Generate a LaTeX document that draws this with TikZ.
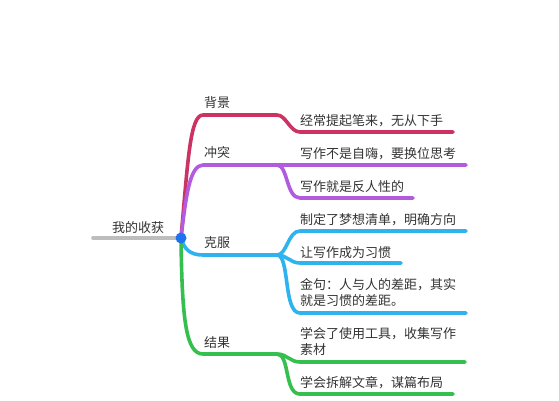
\documentclass[tikz,border=0pt]{standalone}
\usepackage{fontspec}
\setmainfont{Noto Sans CJK SC}
\definecolor{MapRed}{HTML}{CC3262}
\definecolor{MapPurple}{HTML}{B25BDF}
\definecolor{MapBlue}{HTML}{2FB3EE}
\definecolor{MapGreen}{HTML}{35BF4E}
\definecolor{MapGray}{HTML}{BDBDBD}
\definecolor{MapDot}{HTML}{1E72EE}
\definecolor{MapText}{HTML}{333333}
\usetikzlibrary{positioning}

\begin{document}
\begin{tikzpicture}[
    x=1pt, y=-1pt,
    every node/.style={text=MapText, font=\fontsize{13}{16}\selectfont, inner sep=0pt, anchor=base west},
    wire/.style={line width=3.6pt, line cap=round, line join=round},
    leaf/.style={align=left}
  ]
    \useasboundingbox (0,0) rectangle (559,400);

    % root
    \coordinate (root) at (181,238);
    \coordinate (rootTail) at (93,238);
    \node (rootText) at (112,232) {我的收获};

    % branch points
    \coordinate (bgA) at (203,115);   \coordinate (bgB) at (277,115);
    \coordinate (ctA) at (203,165);   \coordinate (ctB) at (277,165);
    \coordinate (kfA) at (203,255);   \coordinate (kfB) at (277,255);
    \coordinate (jgA) at (203,354);   \coordinate (jgB) at (277,354);

    % branch labels
    \node (bg) at (204,107) {背景};
    \node (ct) at (204,157) {冲突};
    \node (kf) at (204,247) {克服};
    \node (jg) at (204,347) {结果};

    % leaves (base = last line)
    \node (bg1) at (300,125) {经常提起笔来，无从下手};
    \node (ct1) at (300,158) {写作不是自嗨，要换位思考};
    \node (ct2) at (300,191) {写作就是反人性的};
    \node (kf1) at (300,224) {制定了梦想清单，明确方向};
    \node (kf2) at (300,257) {让写作成为习惯};
    \node[leaf] (kf3) at (300,305) {金句：人与人的差距，其实\\就是习惯的差距。};
    \node[leaf] (jg1) at (300,354) {学会了使用工具，收集写作\\素材};
    \node (jg2) at (300,387) {学会拆解文章，谋篇布局};

    % leaf line ends
    \coordinate (bg1a) at (300,132);  \coordinate (bg1b) at (453,132);
    \coordinate (ct1b) at (466,165);
    \coordinate (ct2a) at (300,198);  \coordinate (ct2b) at (413,198);
    \coordinate (kf1a) at (300,231);  \coordinate (kf1b) at (466,231);
    \coordinate (kf2a) at (300,263);  \coordinate (kf2b) at (401,263);
    \coordinate (kf3a) at (300,313);  \coordinate (kf3b) at (466,313);
    \coordinate (jg1a) at (300,362);  \coordinate (jg1b) at (465,362);
    \coordinate (jg2a) at (300,394);  \coordinate (jg2b) at (453,394);

    \draw[wire, MapGray] (rootTail) -- (root);

    % 背景
    \draw[wire, MapRed] (root) .. controls (188,160) and (190,115) .. (bgA) -- (bgB);
    \draw[wire, MapRed] (bgB) .. controls (286,115) and (290,132) .. (bg1a) -- (bg1b);

    % 冲突
    \draw[wire, MapPurple] (root) .. controls (186,195) and (190,165) .. (ctA) -- (ctB) -- (ct1b);
    \draw[wire, MapPurple] (ctB) .. controls (288,165) and (286,198) .. (ct2a) -- (ct2b);

    % 克服
    \draw[wire, MapBlue] (root) .. controls (184,249) and (190,255) .. (kfA) -- (kfB);
    \draw[wire, MapBlue] (kfB) .. controls (287,255) and (288,231) .. (kf1a) -- (kf1b);
    \draw[wire, MapBlue] (kfB) .. controls (287,255) and (290,263) .. (kf2a) -- (kf2b);
    \draw[wire, MapBlue] (kfB) .. controls (290,255) and (283,313) .. (kf3a) -- (kf3b);

    % 结果
    \draw[wire, MapGreen] (root) .. controls (182,320) and (186,354) .. (jgA) -- (jgB);
    \draw[wire, MapGreen] (jgB) .. controls (287,354) and (290,362) .. (jg1a) -- (jg1b);
    \draw[wire, MapGreen] (jgB) .. controls (290,354) and (284,394) .. (jg2a) -- (jg2b);

    \fill[MapDot] (root) circle (5.5);
  \end{tikzpicture}
\end{document}
